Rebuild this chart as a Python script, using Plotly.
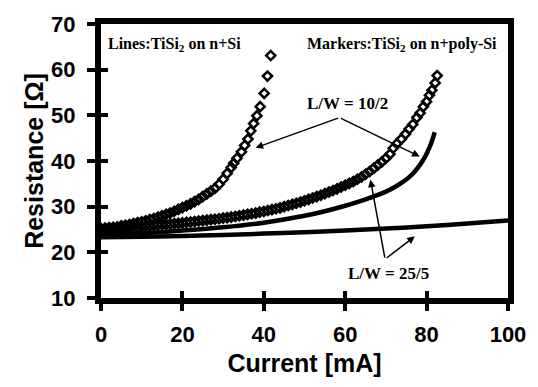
import plotly.graph_objects as go

# ---------------- data ----------------
# Markers: TiSi2 on n+poly-Si, L/W = 10/2
poly_10_2_I = [0, 1, 2, 3, 4, 5, 6, 7, 8, 9, 10, 11, 12, 13, 14, 15, 16, 17, 18, 19,
               20, 21, 22, 23, 24, 25, 26, 27, 28, 29, 30, 31, 32,
               32.6, 33.4, 34.5, 35.3, 36.1, 36.8, 37.5, 38.3, 39.1, 40.1, 40.9, 41.7]
poly_10_2_R = [25.2, 25.3, 25.4, 25.5, 25.6, 25.8, 25.9, 26.1, 26.3, 26.5, 26.7, 26.9,
               27.2, 27.4, 27.7, 28.0, 28.3, 28.6, 29.0, 29.4, 29.8, 30.2, 30.6, 31.1,
               31.6, 32.2, 32.8, 33.4, 34.0, 34.9, 36.0, 37.3, 38.6,
               39.5, 40.6, 42.0, 43.4, 44.8, 46.6, 48.2, 49.9, 51.9, 54.8, 58.6, 63.1]

# Markers: TiSi2 on n+poly-Si, L/W = 25/5
poly_25_5_I = [0, 1, 2, 3, 4, 5, 6, 7, 8, 9, 10, 11, 12, 13, 14, 15, 16, 17, 18, 19,
               20, 21, 22, 23, 24, 25, 26, 27, 28, 29, 30, 31, 32, 33, 34, 35, 36, 37,
               38, 39, 40, 41, 42, 43, 44, 45, 46, 47, 48, 49, 50, 51, 52, 53, 54, 55,
               56, 57, 58, 59, 60, 61, 62, 63, 64, 65, 66, 67, 68, 69, 70, 71,
               71.8, 72.7, 73.8, 74.8, 75.7, 76.6, 77.6, 78.4, 79.2, 80.0, 80.7, 81.3,
               82.1, 82.6]
poly_25_5_R = [25.0, 25.05, 25.1, 25.2, 25.25, 25.3, 25.4, 25.45, 25.5, 25.6, 25.7,
               25.75, 25.8, 25.9, 26.0, 26.05, 26.1, 26.2, 26.3, 26.35, 26.45, 26.55,
               26.65, 26.75, 26.85, 26.95, 27.05, 27.15, 27.25, 27.35, 27.5, 27.6,
               27.7, 27.85, 28.0, 28.15, 28.3, 28.45, 28.6, 28.8, 28.95, 29.15, 29.35,
               29.55, 29.75, 30.0, 30.25, 30.5, 30.75, 31.0, 31.3, 31.6, 31.9, 32.2,
               32.5, 32.85, 33.2, 33.55, 33.9, 34.3, 34.7, 35.1, 35.5, 36.0, 36.5,
               37.1, 37.7, 38.4, 39.1, 39.8, 40.6, 41.5,
               42.8, 43.8, 44.8, 45.9, 47.0, 48.0, 49.5, 50.5, 51.9, 53.0, 54.4, 55.5,
               57.1, 58.7]

# Lines: TiSi2 on n+Si, L/W = 10/2
si_10_2_I = [0, 10, 20, 30, 40, 50, 55, 60, 65, 70, 72, 74, 76, 77, 78, 79, 80, 81, 82]
si_10_2_R = [23.8, 24.2, 24.8, 25.5, 26.5, 28.0, 29.0, 30.2, 31.6, 33.3, 34.2, 35.3,
             36.7, 37.6, 38.7, 40.0, 41.6, 43.6, 46.3]

# Lines: TiSi2 on n+Si, L/W = 25/5
si_25_5_I = [0, 10, 20, 30, 40, 50, 60, 70, 80, 90, 100]
si_25_5_R = [23.3, 23.4, 23.6, 23.8, 24.1, 24.4, 24.8, 25.2, 25.7, 26.3, 27.0]

x_ticks = [0, 20, 40, 60, 80, 100]
y_ticks = [10, 20, 30, 40, 50, 60, 70]

# ---------------- figure ----------------
fig = go.Figure()

line_style = dict(color="black", width=4.5)
marker_style = dict(symbol="diamond-open", size=7, color="black",
                    line=dict(color="black", width=2.5))

fig.add_trace(go.Scatter(x=si_25_5_I, y=si_25_5_R, mode="lines", line=line_style,
                         line_shape="spline", showlegend=False))
fig.add_trace(go.Scatter(x=si_10_2_I, y=si_10_2_R, mode="lines", line=line_style,
                         line_shape="spline", showlegend=False))
fig.add_trace(go.Scatter(x=poly_25_5_I, y=poly_25_5_R, mode="markers",
                         marker=marker_style, showlegend=False))
fig.add_trace(go.Scatter(x=poly_10_2_I, y=poly_10_2_R, mode="markers",
                         marker=marker_style, showlegend=False))
# dummy trace to carry the overlay axes (inner halves of the tick marks)
fig.add_trace(go.Scatter(x=[], y=[], xaxis="x2", yaxis="y2", showlegend=False,
                         hoverinfo="skip"))

tick_font = dict(family="Liberation Sans, Arial", size=22, color="black")
title_font = dict(family="Liberation Sans, Arial", size=25, color="black")

fig.update_layout(
    width=538, height=387,
    margin=dict(l=101, r=26, t=17, b=89),
    paper_bgcolor="white", plot_bgcolor="white",
    xaxis=dict(range=[0, 100], tickvals=x_ticks,
               ticktext=[f"<b>{v}</b>" for v in x_ticks],
               ticks="outside", ticklen=7,
               tickwidth=4, tickcolor="black", showline=True, linewidth=6,
               linecolor="black", mirror=True, showgrid=False, zeroline=False,
               tickfont=tick_font, ticklabelstandoff=5,
               title=dict(text="<b>Current [mA]</b>", font=title_font, standoff=10)),
    yaxis=dict(range=[10, 70], tickvals=y_ticks,
               ticktext=[f"<b>{v}</b>" for v in y_ticks],
               ticks="outside", ticklen=8,
               tickwidth=4, tickcolor="black", showline=True, linewidth=6,
               linecolor="black", mirror=True, showgrid=False, zeroline=False,
               tickfont=tick_font, ticklabelstandoff=7,
               title=dict(text="<b>Resistance [Ω]</b>", font=title_font, standoff=2)),
    xaxis2=dict(range=[0, 100], tickvals=x_ticks, overlaying="x", anchor="y",
                side="bottom", ticks="inside", ticklen=7, tickwidth=4,
                tickcolor="black", showticklabels=False, showline=False,
                showgrid=False, zeroline=False),
    yaxis2=dict(range=[10, 70], tickvals=y_ticks, overlaying="y", anchor="x",
                side="left", ticks="inside", ticklen=7, tickwidth=4,
                tickcolor="black", showticklabels=False, showline=False,
                showgrid=False, zeroline=False),
)

serif = dict(family="Liberation Serif, Times New Roman", color="black")

# header texts
fig.add_annotation(x=1.2, y=65.6, xref="x", yref="y", xanchor="left", yanchor="middle",
                   text="<b>Lines:TiSi<sub>2</sub> on n+Si</b>", showarrow=False,
                   font=dict(size=16, **serif))
fig.add_annotation(x=97.8, y=65.6, xref="x", yref="y", xanchor="right", yanchor="middle",
                   text="<b>Markers:TiSi<sub>2</sub> on n+poly-Si</b>", showarrow=False,
                   font=dict(size=16, **serif))

# L/W labels
fig.add_annotation(x=60.6, y=52.5, text="<b>L/W = 10/2</b>", showarrow=False,
                   font=dict(size=17, **serif))
fig.add_annotation(x=70.6, y=15.3, text="<b>L/W = 25/5</b>", showarrow=False,
                   font=dict(size=17, **serif))

# arrows (head at x,y, tail at ax,ay)
arrows = [
    ((38.0, 42.9), (58.6, 49.5)),
    ((78.3, 41.0), (58.6, 49.5)),
    ((66.2, 35.9), (69.8, 18.5)),
    ((77.1, 23.5), (69.8, 18.5)),
]
for (hx, hy), (tx, ty) in arrows:
    fig.add_annotation(x=hx, y=hy, ax=tx, ay=ty, xref="x", yref="y", axref="x",
                       ayref="y", text="", showarrow=True, arrowhead=2,
                       arrowsize=1.0, arrowwidth=1.5, arrowcolor="black")

fig.write_html("out.html")
